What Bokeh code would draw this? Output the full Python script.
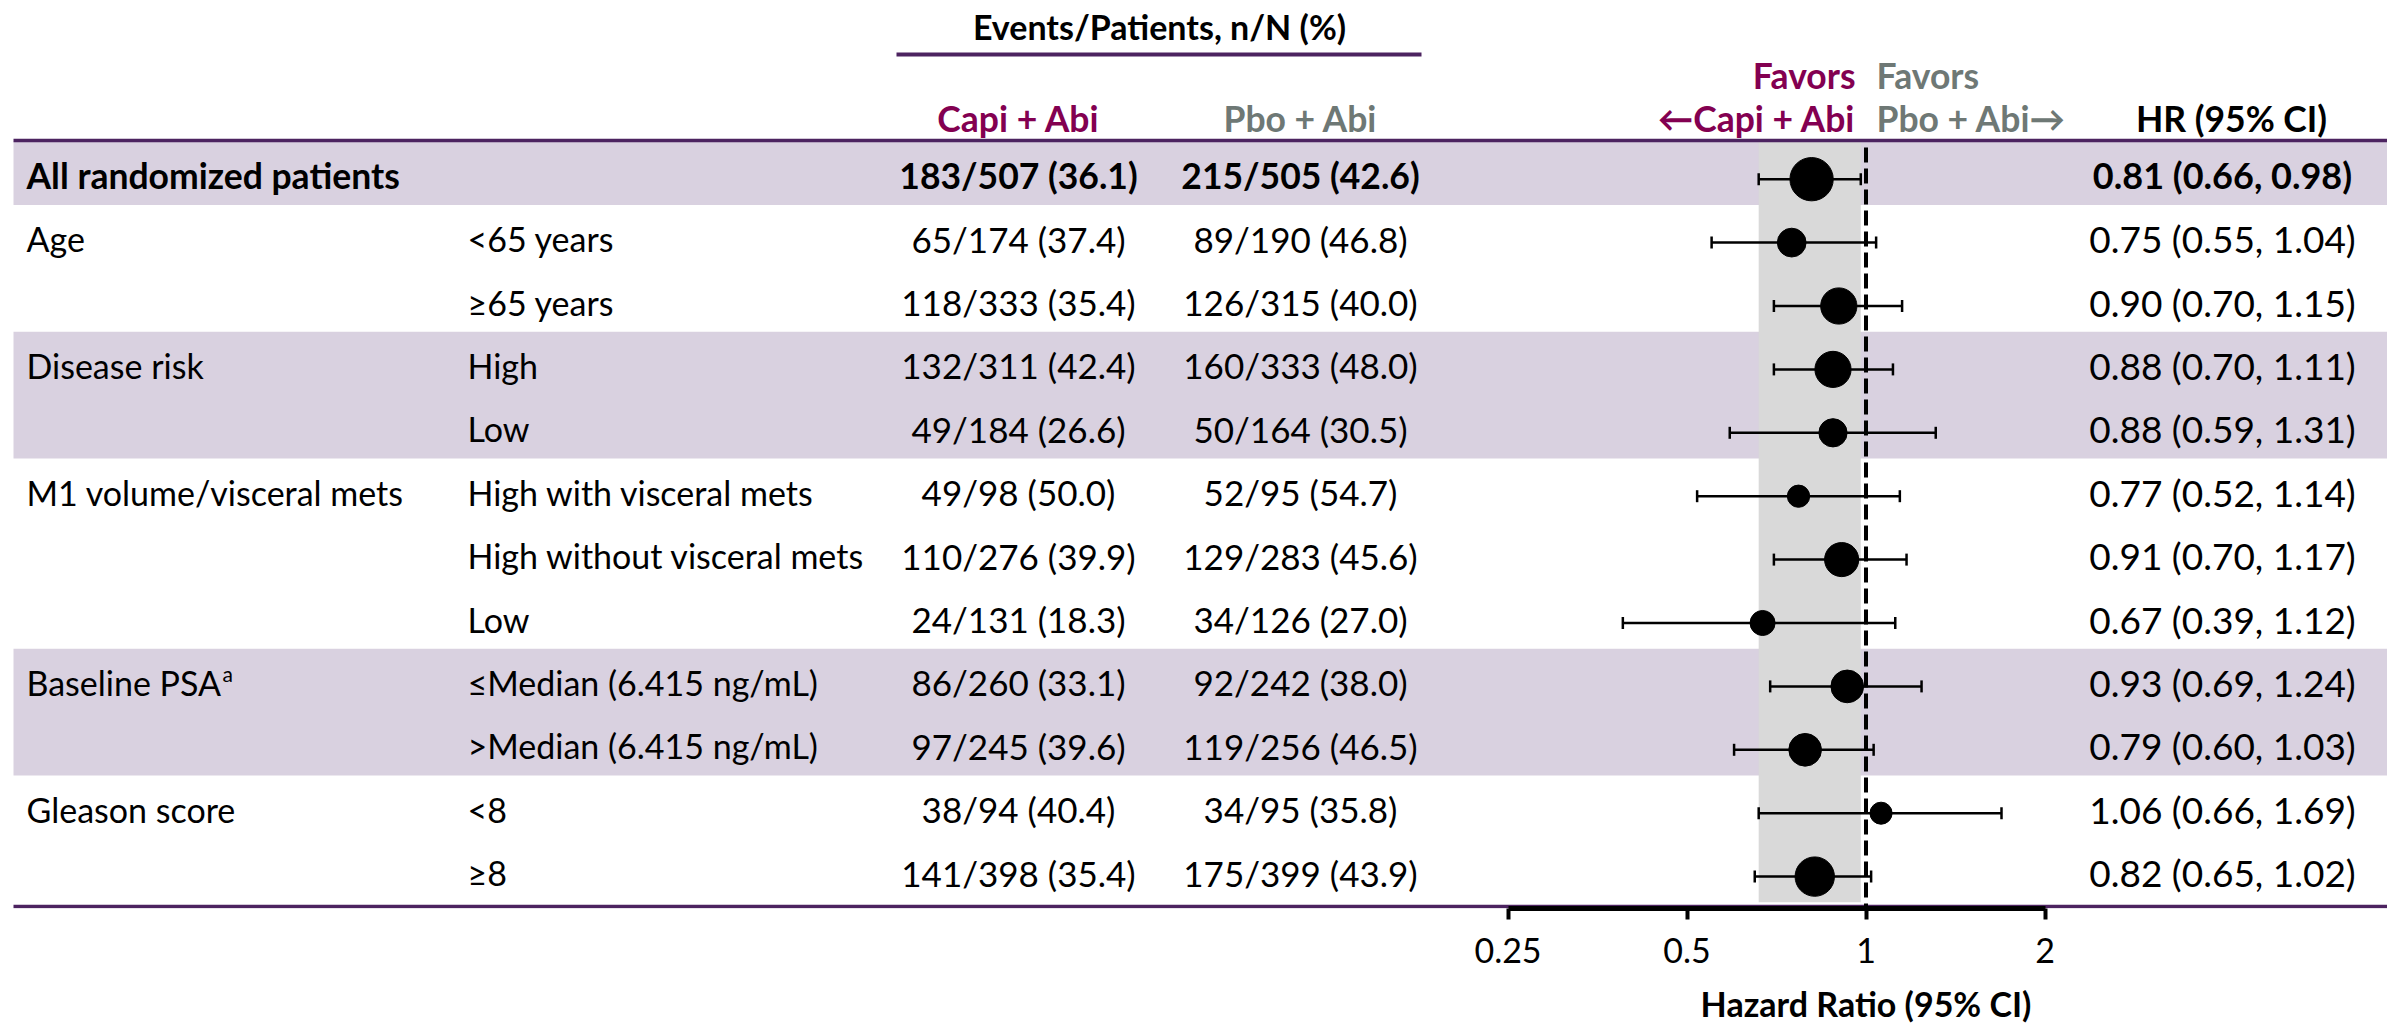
from bokeh.plotting import figure
from bokeh.layouts import column
from bokeh.models import (Range1d, LogScale, LogAxis, FixedTicker,
                          CustomJSTickFormatter)
from bokeh.core.properties import value
from bokeh.embed import file_html
from bokeh.resources import INLINE

# ---------------------------------------------------------------- data
categories = ["All randomized patients", "Age", "", "Disease risk", "",
              "M1 volume/visceral mets", "", "", "Baseline PSA", "",
              "Gleason score", ""]
subgroups = ["", "<65 years", "\u226565 years", "High", "Low",
             "High with visceral mets", "High without visceral mets", "Low",
             "\u2264Median (6.415 ng/mL)", ">Median (6.415 ng/mL)",
             "<8", "\u22658"]
group_id = [0, 1, 1, 2, 2, 3, 3, 3, 4, 4, 5, 5]

capi_events = [183, 65, 118, 132, 49, 49, 110, 24, 86, 97, 38, 141]
capi_n = [507, 174, 333, 311, 184, 98, 276, 131, 260, 245, 94, 398]
capi_pct = [36.1, 37.4, 35.4, 42.4, 26.6, 50.0, 39.9, 18.3, 33.1, 39.6, 40.4, 35.4]

pbo_events = [215, 89, 126, 160, 50, 52, 129, 34, 92, 119, 34, 175]
pbo_n = [505, 190, 315, 333, 164, 95, 283, 126, 242, 256, 95, 399]
pbo_pct = [42.6, 46.8, 40.0, 48.0, 30.5, 54.7, 45.6, 27.0, 38.0, 46.5, 35.8, 43.9]

hr = [0.81, 0.75, 0.90, 0.88, 0.88, 0.77, 0.91, 0.67, 0.93, 0.79, 1.06, 0.82]
hr_low = [0.66, 0.55, 0.70, 0.70, 0.59, 0.52, 0.70, 0.39, 0.69, 0.60, 0.66, 0.65]
hr_high = [0.98, 1.04, 1.15, 1.11, 1.31, 1.14, 1.17, 1.12, 1.24, 1.03, 1.69, 1.02]

hr_ticks = [0.25, 0.5, 1, 2]
null_hr = 1.0

# ---------------------------------------------------------------- styling
W, H = 2387, 1025
FRAME_BOTTOM = 908
MAIN_H = 980
FONT = value("Lato")
FS = value("34px")
FS_BOLD = value("35.5px")
FS_HR = value("37px")
PURPLE = "#4C2360"
MULBERRY = "#830051"
GREY_TXT = "#6E7875"
LAVENDER = "#D9D1E0"
BAND_GREY = "#D9D9D9"

ROW_TOP = 141.0      # top edge of the first table row
ROW_H = 63.4
X_CAT, X_SUB, X_CAPI, X_PBO, X_HR = 26, 467, 1018, 1300, 2222
X_LEFT = 13

# log2 HR axis: HR = 1 sits at x=1865.5, 179 px per doubling
PX_PER_DOUBLING = 179.0
X_NULL = 1865.5
hr_range = Range1d(2 ** (-X_NULL / PX_PER_DOUBLING),
                   2 ** ((W - X_NULL) / PX_PER_DOUBLING))

n_rows = len(subgroups)
row_top = [ROW_TOP + i * ROW_H for i in range(n_rows)]
row_bot = [t + ROW_H for t in row_top]
text_y = [t + ROW_H / 2 + 2 for t in row_top]
mark_y = [t + ROW_H / 2 + 6 for t in row_top]

p = figure(width=W, height=MAIN_H, output_backend="svg", toolbar_location=None,
           x_range=Range1d(0, W), y_range=Range1d(FRAME_BOTTOM, 0),
           x_axis_location=None, y_axis_location=None,
           min_border_left=0, min_border_right=0, min_border_top=0,
           min_border_bottom=MAIN_H - FRAME_BOTTOM,
           outline_line_color=None, background_fill_color="white",
           border_fill_color="white")
p.grid.visible = False
p.extra_x_ranges = {"hr": hr_range}
p.extra_x_scales = {"hr": LogScale()}

# alternating lavender bands for every other subgroup block
shaded = [i for i in range(n_rows) if group_id[i] % 2 == 0]
p.quad(left=X_LEFT, right=W,
       top=[row_top[i] for i in shaded], bottom=[row_bot[i] for i in shaded],
       fill_color=LAVENDER, line_color=None)

# grey band spanning the overall-population confidence interval
p.quad(left=[hr_low[0]], right=[hr_high[0]], top=[row_top[0]],
       bottom=[row_bot[-1]], x_range_name="hr",
       fill_color=BAND_GREY, line_color=None)

# header rules
p.segment(x0=[X_LEFT, X_LEFT], x1=[W, W], y0=[140, 906], y1=[140, 906],
          line_color=PURPLE, line_width=3.5)
p.segment(x0=[896], x1=[1421], y0=[54], y1=[54], line_color=PURPLE, line_width=4)

# confidence intervals with end caps
p.segment(x0=hr_low, x1=hr_high, y0=mark_y, y1=mark_y, x_range_name="hr",
          line_color="black", line_width=2.5)
cap_y0 = [y - 6 for y in mark_y]
cap_y1 = [y + 6 for y in mark_y]
p.segment(x0=hr_low + hr_high, x1=hr_low + hr_high, y0=cap_y0 + cap_y0,
          y1=cap_y1 + cap_y1, x_range_name="hr", line_color="black", line_width=2.5)

# line of no effect
p.segment(x0=[null_hr], x1=[null_hr], y0=[147], y1=[FRAME_BOTTOM], x_range_name="hr",
          line_color="black", line_width=4, line_dash="15 6")

# point estimates, sized by subgroup population
sizes = [2.72 * (a + b) ** 0.4 for a, b in zip(capi_n, pbo_n)]
p.scatter(x=hr, y=mark_y, size=sizes, x_range_name="hr",
          fill_color="black", line_color="black")


def txt(fig, x, y, t, align="left", color="black", bold=False, size=FS, **kw):
    fig.text(x=x, y=y, text=t, text_font=FONT, text_font_size=size,
             text_align=align, text_baseline="middle", text_color=color,
             text_font_style="bold" if bold else "normal", **kw)


# column headers
txt(p, [1159], [26], ["Events/Patients, n/N (%)"], "center", bold=True)
txt(p, [X_CAPI], [118], ["Capi + Abi"], "center", MULBERRY, True, FS_BOLD)
txt(p, [X_PBO], [118], ["Pbo + Abi"], "center", GREY_TXT, True, FS_BOLD)
txt(p, [1855, 1855], [75, 118], ["Favors", "\u2190Capi + Abi"], "right", MULBERRY, True, FS_BOLD)
txt(p, [1876, 1876], [75, 118], ["Favors", "Pbo + Abi\u2192"], "left", GREY_TXT, True, FS_BOLD)
txt(p, [2231], [118], ["HR (95% CI)"], "center", bold=True, size=FS_BOLD)

capi_txt = [f"{e}/{n} ({v:.1f})" for e, n, v in zip(capi_events, capi_n, capi_pct)]
pbo_txt = [f"{e}/{n} ({v:.1f})" for e, n, v in zip(pbo_events, pbo_n, pbo_pct)]
hr_txt = [f"{h:.2f} ({l:.2f}, {u:.2f})" for h, l, u in zip(hr, hr_low, hr_high)]

# overall row in bold
txt(p, [X_CAT], [text_y[0]], [categories[0]], bold=True, size=FS_BOLD)
txt(p, [X_CAPI], [text_y[0]], [capi_txt[0]], "center", bold=True, size=FS_BOLD)
txt(p, [X_PBO], [text_y[0]], [pbo_txt[0]], "center", bold=True, size=FS_BOLD)
txt(p, [X_HR], [text_y[0]], [hr_txt[0]], "center", bold=True, size=value("36px"))

k = n_rows - 1
txt(p, [X_CAT] * k, text_y[1:], categories[1:])
txt(p, [X_SUB] * k, text_y[1:], subgroups[1:])
txt(p, [X_CAPI] * k, text_y[1:], capi_txt[1:], "center", size=value("35px"))
txt(p, [X_PBO] * k, text_y[1:], pbo_txt[1:], "center", size=value("35px"))
txt(p, [X_HR] * k, text_y[1:], hr_txt[1:], "center", size=FS_HR)
# footnote marker on Baseline PSA
txt(p, [222], [text_y[8] - 9], ["a"], size=value("21px"))

# hazard-ratio axis
ax = LogAxis(x_range_name="hr", ticker=FixedTicker(ticks=hr_ticks),
             formatter=CustomJSTickFormatter(code="return String(tick)"),
             bounds=(hr_ticks[0], hr_ticks[-1]),
             axis_line_color="black", axis_line_width=5,
             major_tick_in=0, major_tick_out=11, major_tick_line_width=4,
             major_tick_line_color="black", minor_tick_line_color=None,
             major_label_text_font="Lato", major_label_text_font_size="34px",
             major_label_text_color="black", major_label_standoff=18)
p.add_layout(ax, "below")

# strip beneath the axis holding the axis title, centred on HR = 1
q = figure(width=W, height=H - MAIN_H, output_backend="svg", toolbar_location=None,
           x_range=p.x_range, y_range=Range1d(H, MAIN_H),
           x_axis_location=None, y_axis_location=None,
           min_border_left=0, min_border_right=0, min_border_top=0,
           min_border_bottom=0, outline_line_color=None,
           background_fill_color="white", border_fill_color="white")
q.grid.visible = False
q.extra_x_ranges = {"hr": hr_range}
q.extra_x_scales = {"hr": LogScale()}
txt(q, [null_hr], [1003], ["Hazard Ratio (95% CI)"], "center", bold=True,
    size=FS, x_range_name="hr")

layout = column(p, q, spacing=0)
open("out.html", "w").write(file_html(layout, INLINE))
